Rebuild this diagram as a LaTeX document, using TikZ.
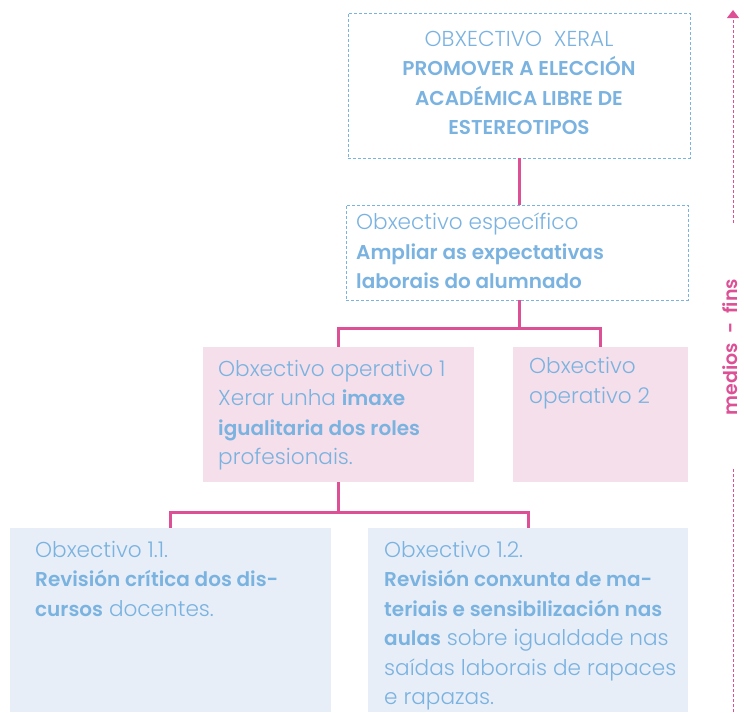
\documentclass[tikz,border=0pt]{standalone}
\usepackage{fontspec}
\setmainfont{Poppins}[UprightFont={* Light},UprightFeatures={Scale=1.08},BoldFont={* SemiBold}]
\usetikzlibrary{arrows.meta}

\definecolor{azul}{RGB}{122,178,224}
\definecolor{rosa}{RGB}{222,80,150}
\definecolor{rosaclaro}{RGB}{245,223,235}
\definecolor{azulclaro}{RGB}{231,238,248}

\begin{document}
\begin{tikzpicture}[x=1pt,y=-1pt,
    caixa/.style={draw=azul, dash pattern=on 3pt off 2pt, line width=0.9pt, inner sep=0pt},
    operativo/.style={fill=rosaclaro, inner sep=0pt},
    accion/.style={fill=azulclaro, inner sep=0pt},
    texto/.style={text=azul, font=\fontsize{20}{29.5}\selectfont, align=left, inner sep=0pt, anchor=north west},
    liga/.style={draw=rosa, line width=3pt}]
    \useasboundingbox (0,0) rectangle (744,712);

    % caixas
    \node[caixa, minimum width=342, minimum height=145] (xeral) at (519,85.5) {};
    \node[caixa, minimum width=342, minimum height=95] (especifico) at (517,252.5) {};
    \node[operativo, minimum width=271, minimum height=135] (op1) at (338.5,414.5) {};
    \node[operativo, minimum width=175, minimum height=135] (op2) at (600.5,414.5) {};
    \node[accion, minimum width=321, minimum height=184] (ob11) at (170.5,620) {};
    \node[accion, minimum width=320, minimum height=184] (ob12) at (528,620) {};

    % textos
    \node[texto, anchor=center, align=center] (txeral) at (519,83)
        {OBXECTIVO~~XERAL\\ \textbf{PROMOVER A ELECCIÓN}\\ \textbf{ACADÉMICA LIBRE DE}\\ \textbf{ESTEREOTIPOS}};
    \node[texto] (tespecifico) at (356,213)
        {Obxectivo específico\\ \textbf{Ampliar as expectativas}\\ \textbf{laborais do alumnado}};
    \node[texto] (top1) at (218,360)
        {Obxectivo operativo 1\\ Xerar unha \textbf{imaxe}\\ \textbf{igualitaria dos roles}\\ profesionais.};
    \node[texto] (top2) at (529,357.5)
        {Obxectivo\\ operativo 2};
    \node[texto] (tob11) at (35,541)
        {Obxectivo 1.1.\\ \textbf{Revisión crítica dos dis-}\\ \textbf{cursos} docentes.};
    \node[texto] (tob12) at (384,541)
        {Obxectivo 1.2.\\ \textbf{Revisión conxunta de ma-}\\ \textbf{teriais e sensibilización nas}\\ \textbf{aulas} sobre igualdade nas\\ saídas laborais de rapaces\\ e rapazas.};

    % ligazons
    \draw[liga] (xeral.south) -- (xeral.south |- especifico.north);
    \draw[liga] (xeral.south |- especifico.south) -- ++(0,28) -| (op1.north);
    \draw[liga] (xeral.south |- especifico.south) -- ++(0,28) -| (op2.north);
    \draw[liga] (op1.south) -- ++(0,30) -| (ob11.north);
    \draw[liga] (op1.south) -- ++(0,30) -| (ob12.north);

    % eixo medios - fins
    \node[rotate=90, text=rosa, font=\fontsize{19}{22}\selectfont\bfseries, inner sep=1pt] (eixo) at (730,347) {medios\ \ -\ \ fins};
    \coordinate (fins) at (733,10);
    \coordinate (medios) at (733,712);
    \draw[rosa, line width=1pt, dash pattern=on 3pt off 2pt, -{Triangle[width=12pt,length=8pt]}]
        (eixo.east -| fins) ++(0,-55) -- (fins);
    \draw[rosa, line width=1pt, dash pattern=on 3pt off 2pt] (medios) -- ([yshift=-52pt]eixo.west -| medios);
\end{tikzpicture}
\end{document}
